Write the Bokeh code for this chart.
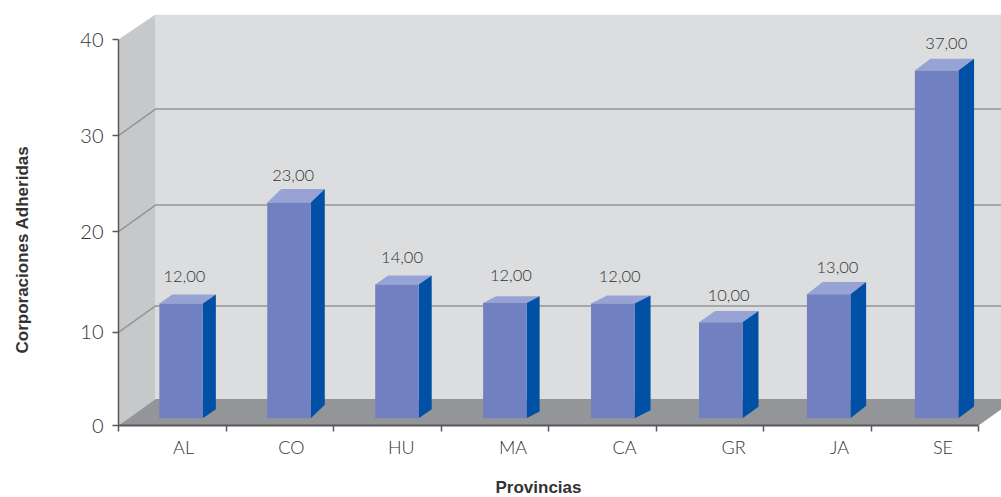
from bokeh.plotting import figure
from bokeh.embed import file_html
from bokeh.resources import INLINE
from bokeh.models import Range1d, LinearAxis, FixedTicker, Title
from bokeh.core.properties import value

provinces = ["AL", "CO", "HU", "MA", "CA", "GR", "JA", "SE"]
values = [12, 23, 14, 12, 12, 10, 13, 37]
# bar tops as drawn, read against the value axis
bar_tops = [12.64, 23.1, 14.6, 12.7, 12.64, 10.7, 13.6, 36.8]
y_ticks = [0, 9.64, 20.1, 30.05, 40]
y_labels = ["0", "10", "20", "30", "40"]
label_pos = [0.605, 1.609, 2.63, 3.67, 4.707, 5.721, 6.707, 7.67]
x_title = "Provincias"
y_title = "Corporaciones Adheridas"

PXX, PXY = 107.5, 9.65
# the reference draws each bar with its own 3-D depth (pixels)
depth_x = [13, 14, 13, 13, 16, 16, 15.7, 15.7]
depth_y = [9, 13.5, 9, 6.7, 8, 11.3, 12.3, 11.7]
DX, DY = 37 / PXX, 26.5 / PXY
BASE = 0.76
BW = 43.5 / PXX
FONT = "Lato Light"
TITLE_FONT = "Liberation Sans"
TXT = "#333334"
AX = "#58595b"
xmax, ymax = 883 / PXX, 411 / PXY

p = figure(width=1001, height=497, output_backend="svg", toolbar_location=None,
           x_range=Range1d(0, xmax), y_range=Range1d(0, ymax),
           x_axis_location=None, y_axis_location=None,
           min_border_left=118, min_border_right=0, min_border_top=14, min_border_bottom=72,
           outline_line_color=None, background_fill_color="white")
p.grid.visible = False

p.patch([DX, xmax + 1, xmax + 1, DX], [DY, DY, ymax, ymax], fill_color="#dcddde", line_color=None)
p.patch([0, DX, DX, 0], [0, DY, ymax, 40], fill_color="#c7c8ca", line_color=None)
p.patch([0, 8, 8 + DX, DX], [0, 0, DY, DY], fill_color="#939598", line_color=None)

for t in y_ticks[1:-1]:
    p.line([0, DX, xmax + 1], [t, t + DY, t + DY], line_color="#939598", line_width=1.5)

lefts = [i + 0.38 + 0.004 * i for i in range(len(values))]
rights = [l + BW for l in lefts]
bdx = [d / PXX for d in depth_x]
bdy = [d / PXY for d in depth_y]
p.patches([[l, r, r + a, l + a] for l, r, a in zip(lefts, rights, bdx)],
          [[t, t, t + b, t + b] for t, b in zip(bar_tops, bdy)], fill_color="#97a2d5", line_color=None)
p.patches([[r, r + a, r + a, r] for r, a in zip(rights, bdx)],
          [[BASE, BASE + b, t + b, t] for t, b in zip(bar_tops, bdy)], fill_color="#0050a5", line_color=None)
p.quad(left=lefts, right=rights, bottom=BASE, top=bar_tops, fill_color="#7080c0", line_color=None)

lx = [(l + r) / 2 + 0.03 + 0.0086 * i for i, (l, r) in enumerate(zip(lefts, rights))]
ly = [t + 27 / PXY for t in bar_tops]
p.text(lx, ly, text=[f"{v},00" for v in values], text_font=value(FONT), text_font_size="16.5px",
       text_color=TXT, text_align="center", text_baseline="middle")

yax = LinearAxis(ticker=FixedTicker(ticks=y_ticks), major_label_overrides=dict(zip(y_ticks, y_labels)),
                 bounds=(0, 40), major_tick_in=0, major_tick_out=6, minor_tick_line_color=None,
                 axis_line_color=AX, axis_line_width=1.5, major_tick_line_color=AX, major_tick_line_width=1.5,
                 major_label_text_font=FONT, major_label_text_font_size="20px", major_label_text_color=TXT,
                 major_label_standoff=9)
p.add_layout(yax, "left")
# invisible axis that only keeps the title away from the tick labels
p.add_layout(LinearAxis(ticker=FixedTicker(ticks=[1]), major_label_overrides={1: " "}, axis_line_color=None,
                        major_tick_line_color=None, minor_tick_line_color=None, major_tick_in=0, major_tick_out=46,
                        major_label_text_font_size="1px", major_label_text_color=None, major_label_standoff=0), "left")

tick_ax = LinearAxis(ticker=FixedTicker(ticks=list(range(9))), bounds=(0, 8), major_tick_in=0, major_tick_out=6,
                     minor_tick_line_color=None, axis_line_color=AX, axis_line_width=2,
                     major_tick_line_color=AX, major_tick_line_width=1.5,
                     major_label_text_color=None, major_label_text_font_size="1px", major_label_standoff=0)
p.add_layout(tick_ax, "below")
lab_ax = LinearAxis(ticker=FixedTicker(ticks=label_pos), major_label_overrides=dict(zip(label_pos, provinces)),
                    axis_line_color=None, major_tick_line_color=None, minor_tick_line_color=None,
                    major_tick_in=0, major_tick_out=0,
                    major_label_text_font=FONT, major_label_text_font_size="18px", major_label_text_color=TXT,
                    major_label_standoff=4)
p.add_layout(lab_ax, "below")
p.add_layout(LinearAxis(ticker=FixedTicker(ticks=[1]), major_label_overrides={1: " "}, axis_line_color=None,
                        major_tick_line_color=None, minor_tick_line_color=None, major_tick_in=0, major_tick_out=15,
                        major_label_text_font_size="1px", major_label_text_color=None, major_label_standoff=0), "below")

p.add_layout(Title(text=x_title, align="left", offset=377, standoff=0, text_font=TITLE_FONT,
                   text_font_style="bold", text_font_size="17px", text_color=TXT), "below")
p.add_layout(Title(text=y_title, align="left", offset=72, standoff=0, text_font=TITLE_FONT,
                   text_font_style="bold", text_font_size="17px", text_color=TXT), "left")

open("out.html", "w").write(file_html(p, INLINE))
